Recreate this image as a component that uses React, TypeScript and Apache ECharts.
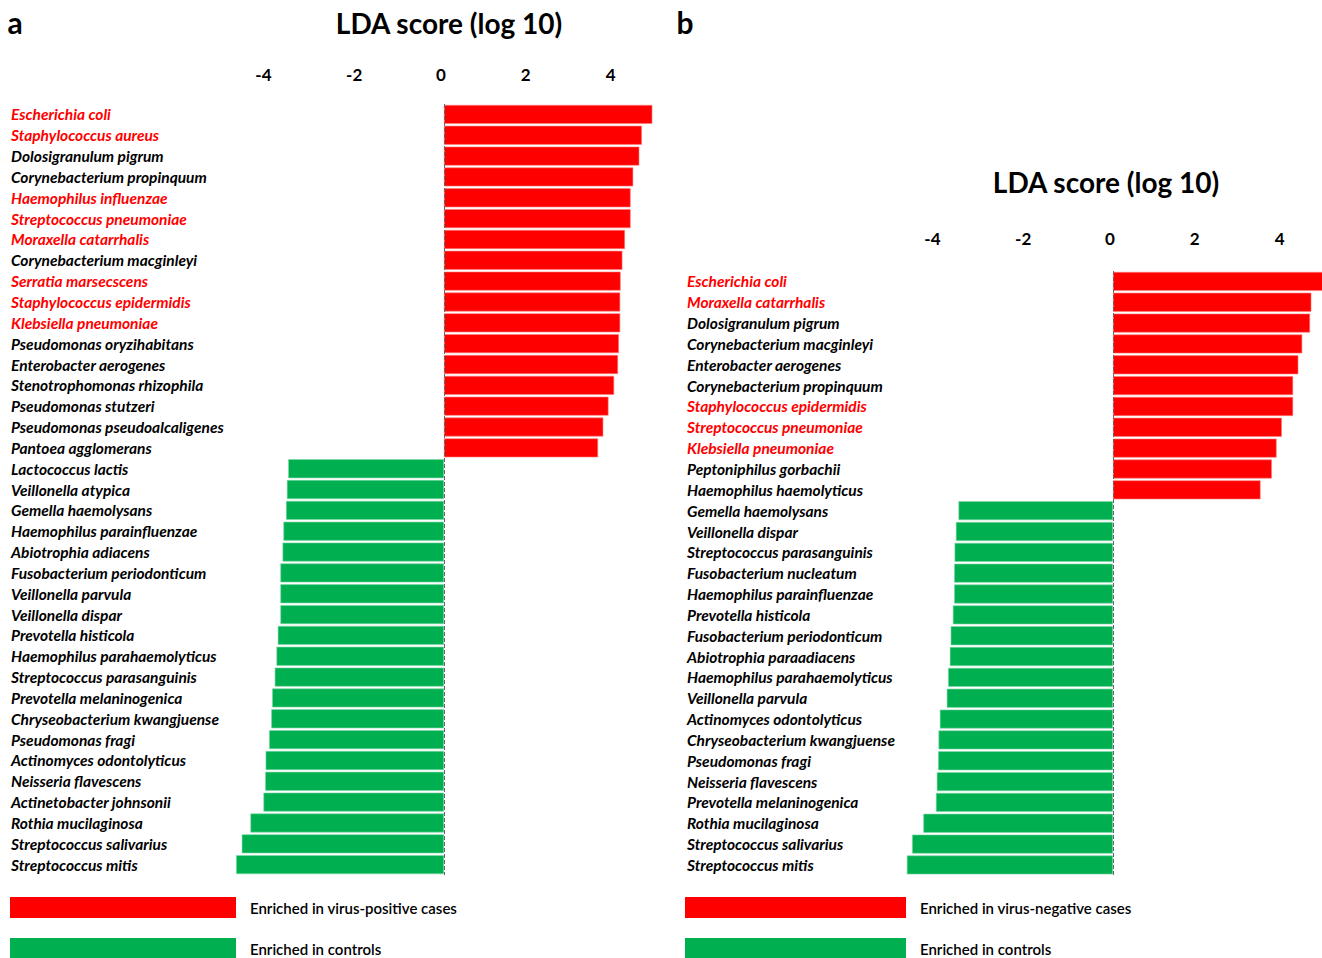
import React, { useEffect, useRef } from "react";
import * as echarts from "echarts";

// ---------- Data ----------
const categoriesA = [
  "Escherichia coli",
  "Staphylococcus aureus",
  "Dolosigranulum pigrum",
  "Corynebacterium propinquum",
  "Haemophilus influenzae",
  "Streptococcus pneumoniae",
  "Moraxella catarrhalis",
  "Corynebacterium macginleyi",
  "Serratia marsecscens",
  "Staphylococcus epidermidis",
  "Klebsiella pneumoniae",
  "Pseudomonas oryzihabitans",
  "Enterobacter aerogenes",
  "Stenotrophomonas rhizophila",
  "Pseudomonas stutzeri",
  "Pseudomonas pseudoalcaligenes",
  "Pantoea agglomerans",
  "Lactococcus lactis",
  "Veillonella atypica",
  "Gemella haemolysans",
  "Haemophilus parainfluenzae",
  "Abiotrophia adiacens",
  "Fusobacterium periodonticum",
  "Veillonella parvula",
  "Veillonella dispar",
  "Prevotella histicola",
  "Haemophilus parahaemolyticus",
  "Streptococcus parasanguinis",
  "Prevotella melaninogenica",
  "Chryseobacterium kwangjuense",
  "Pseudomonas fragi",
  "Actinomyces odontolyticus",
  "Neisseria flavescens",
  "Actinetobacter johnsonii",
  "Rothia mucilaginosa",
  "Streptococcus salivarius",
  "Streptococcus mitis",
];
const valuesA = [
  4.8, 4.56, 4.5, 4.36, 4.3, 4.3, 4.17, 4.11, 4.07, 4.06, 4.06, 4.03, 4.01,
  3.92, 3.79, 3.67, 3.55,
  -3.59, -3.62, -3.64, -3.7, -3.72, -3.77, -3.77, -3.77, -3.83, -3.86, -3.9,
  -3.96, -3.98, -4.03, -4.11, -4.12, -4.16, -4.46, -4.66, -4.79,
];
const redLabelsA = [
  "Escherichia coli",
  "Staphylococcus aureus",
  "Haemophilus influenzae",
  "Streptococcus pneumoniae",
  "Moraxella catarrhalis",
  "Serratia marsecscens",
  "Staphylococcus epidermidis",
  "Klebsiella pneumoniae",
];

const categoriesB = [
  "Escherichia coli",
  "Moraxella catarrhalis",
  "Dolosigranulum pigrum",
  "Corynebacterium macginleyi",
  "Enterobacter aerogenes",
  "Corynebacterium propinquum",
  "Staphylococcus epidermidis",
  "Streptococcus pneumoniae",
  "Klebsiella pneumoniae",
  "Peptoniphilus gorbachii",
  "Haemophilus haemolyticus",
  "Gemella haemolysans",
  "Veillonella dispar",
  "Streptococcus parasanguinis",
  "Fusobacterium nucleatum",
  "Haemophilus parainfluenzae",
  "Prevotella histicola",
  "Fusobacterium periodonticum",
  "Abiotrophia paraadiacens",
  "Haemophilus parahaemolyticus",
  "Veillonella parvula",
  "Actinomyces odontolyticus",
  "Chryseobacterium kwangjuense",
  "Pseudomonas fragi",
  "Neisseria flavescens",
  "Prevotella melaninogenica",
  "Rothia mucilaginosa",
  "Streptococcus salivarius",
  "Streptococcus mitis",
];
const valuesB = [
  4.9, 4.57, 4.54, 4.36, 4.27, 4.15, 4.15, 3.89, 3.77, 3.66, 3.4,
  -3.56, -3.62, -3.65, -3.66, -3.66, -3.69, -3.74, -3.76, -3.8, -3.83, -3.99,
  -4.02, -4.03, -4.06, -4.08, -4.37, -4.63, -4.75,
];
const redLabelsB = [
  "Escherichia coli",
  "Moraxella catarrhalis",
  "Staphylococcus epidermidis",
  "Streptococcus pneumoniae",
  "Klebsiella pneumoniae",
];

const tickLabels = ["-4", "-2", "0", "2", "4"];
const axisTitle = "LDA score (log 10)";
const legendA = ["Enriched in virus-positive cases", "Enriched in controls"];
const legendB = ["Enriched in virus-negative cases", "Enriched in controls"];

// ---------- Styles ----------
const RED = "#ff0000";
const GREEN = "#00b050";
const FONT = "Lato";
const PX_PER_UNIT = 43.4;
const AXIS_MIN = -6;
const AXIS_MAX = 6;
// small leftward nudge of each tick label (style key per tick)
const tickStyleKey: Record<string, string> = { "-4": "s7", "-2": "s3", "0": "s3", "2": "s5", "4": "s7" };

function App() {
  const ref = useRef<HTMLDivElement>(null);

  useEffect(() => {
    if (!ref.current) return;
    const chart = echarts.init(ref.current, null, { renderer: "svg" });

    const zeroA = 444;
    const zeroB = 1113;
    const rowH = 20.84;
    const topA = 104;
    const topB = 271;
    const gridW = (AXIS_MAX - AXIS_MIN) * PX_PER_UNIT;
    const leftA = zeroA + AXIS_MIN * PX_PER_UNIT;
    const leftB = zeroB + AXIS_MIN * PX_PER_UNIT;

    const tickFont = { fontSize: 17, fontWeight: "bold", fontFamily: FONT, color: "#000" };

    const xAxisCommon = (gridIndex: number, margin: number) => ({
      type: "value",
      gridIndex,
      position: "top",
      min: AXIS_MIN,
      max: AXIS_MAX,
      interval: 2,
      axisLine: { show: false },
      axisTick: { show: false },
      splitLine: { show: false },
      axisLabel: {
        margin,
        ...tickFont,
        formatter: (v: number) => {
          const s = String(v);
          if (tickLabels.indexOf(s) < 0) return "";
          return `{${tickStyleKey[s]}|${s}}`;
        },
        rich: {
          s3: { ...tickFont, padding: [0, 6, 0, 0] },
          s5: { ...tickFont, padding: [0, 10, 0, 0] },
          s7: { ...tickFont, padding: [0, 14, 0, 0] },
        },
      },
    });

    const yAxisCommon = (
      gridIndex: number,
      cats: string[],
      reds: string[],
      margin: number
    ) => ({
      type: "category",
      gridIndex,
      data: cats,
      inverse: true,
      axisLine: { show: false },
      axisTick: { show: false },
      splitLine: { show: false },
      axisLabel: {
        interval: 0,
        align: "left",
        margin,
        fontSize: 15.5,
        fontStyle: "italic",
        fontWeight: "bold",
        fontFamily: FONT,
        color: (value: string) => (reds.indexOf(value) >= 0 ? RED : "#000"),
      },
    });

    const barSeries = (idx: number, vals: number[]) => ({
      type: "bar",
      xAxisIndex: idx,
      yAxisIndex: idx,
      barCategoryGap: "9%",
      data: vals.map((v) => ({
        value: v,
        itemStyle: {
          color: v > 0 ? RED : GREEN,
          borderColor: v > 0 ? "#ff8080" : "#80d8a8",
          borderWidth: 0.6,
        },
      })),
      markLine: {
        silent: true,
        symbol: ["none", "none"],
        label: { show: false },
        lineStyle: { type: "dashed", color: "#666", width: 1 },
        data: [{ xAxis: 0 }],
      },
    });

    const legendBlock = (x: number, rectW: number, textX: number, texts: string[]) => [
      { type: "rect", shape: { x, y: 897, width: rectW, height: 21 }, style: { fill: RED } },
      { type: "rect", shape: { x, y: 938, width: rectW, height: 21 }, style: { fill: GREEN } },
      {
        type: "text",
        x: textX,
        y: 908,
        style: {
          text: texts[0],
          font: `600 15px ${FONT}`,
          fill: "#000",
          textVerticalAlign: "middle",
          verticalAlign: "middle",
        },
      },
      {
        type: "text",
        x: textX,
        y: 949,
        style: {
          text: texts[1],
          font: `600 15px ${FONT}`,
          fill: "#000",
          textVerticalAlign: "middle",
          verticalAlign: "middle",
        },
      },
    ];

    const titleText = (cx: number, cy: number, text: string, size: number) => ({
      type: "text",
      x: cx,
      y: cy,
      style: {
        text,
        font: `bold ${size}px ${FONT}`,
        fill: "#000",
        align: "center",
        verticalAlign: "middle",
        textAlign: "center",
        textVerticalAlign: "middle",
      },
    });

    chart.setOption({
      animation: false,
      backgroundColor: "#fff",
      grid: [
        {
          left: leftA,
          top: topA,
          width: gridW,
          height: rowH * categoriesA.length,
          outerBoundsMode: "none",
          containLabel: false,
        },
        {
          left: leftB,
          top: topB,
          width: gridW,
          height: rowH * categoriesB.length,
          outerBoundsMode: "none",
          containLabel: false,
        },
      ],
      xAxis: [xAxisCommon(0, 21), xAxisCommon(1, 24)],
      yAxis: [
        yAxisCommon(0, categoriesA, redLabelsA, leftA - 11),
        yAxisCommon(1, categoriesB, redLabelsB, leftB - 687),
      ],
      series: [barSeries(0, valuesA), barSeries(1, valuesB)],
      graphic: [
        titleText(15, 22, "a", 30),
        titleText(685, 22, "b", 30),
        titleText(449, 23, axisTitle, 28),
        titleText(1106, 182, axisTitle, 28),
        ...legendBlock(10, 226, 250, legendA),
        ...legendBlock(685, 221, 920, legendB),
      ],
    });

    return () => chart.dispose();
  }, []);

  return (
    <div
      ref={ref}
      style={{ position: "fixed", left: 0, top: 0, width: 1322, height: 958 }}
    />
  );
}

export default App;
